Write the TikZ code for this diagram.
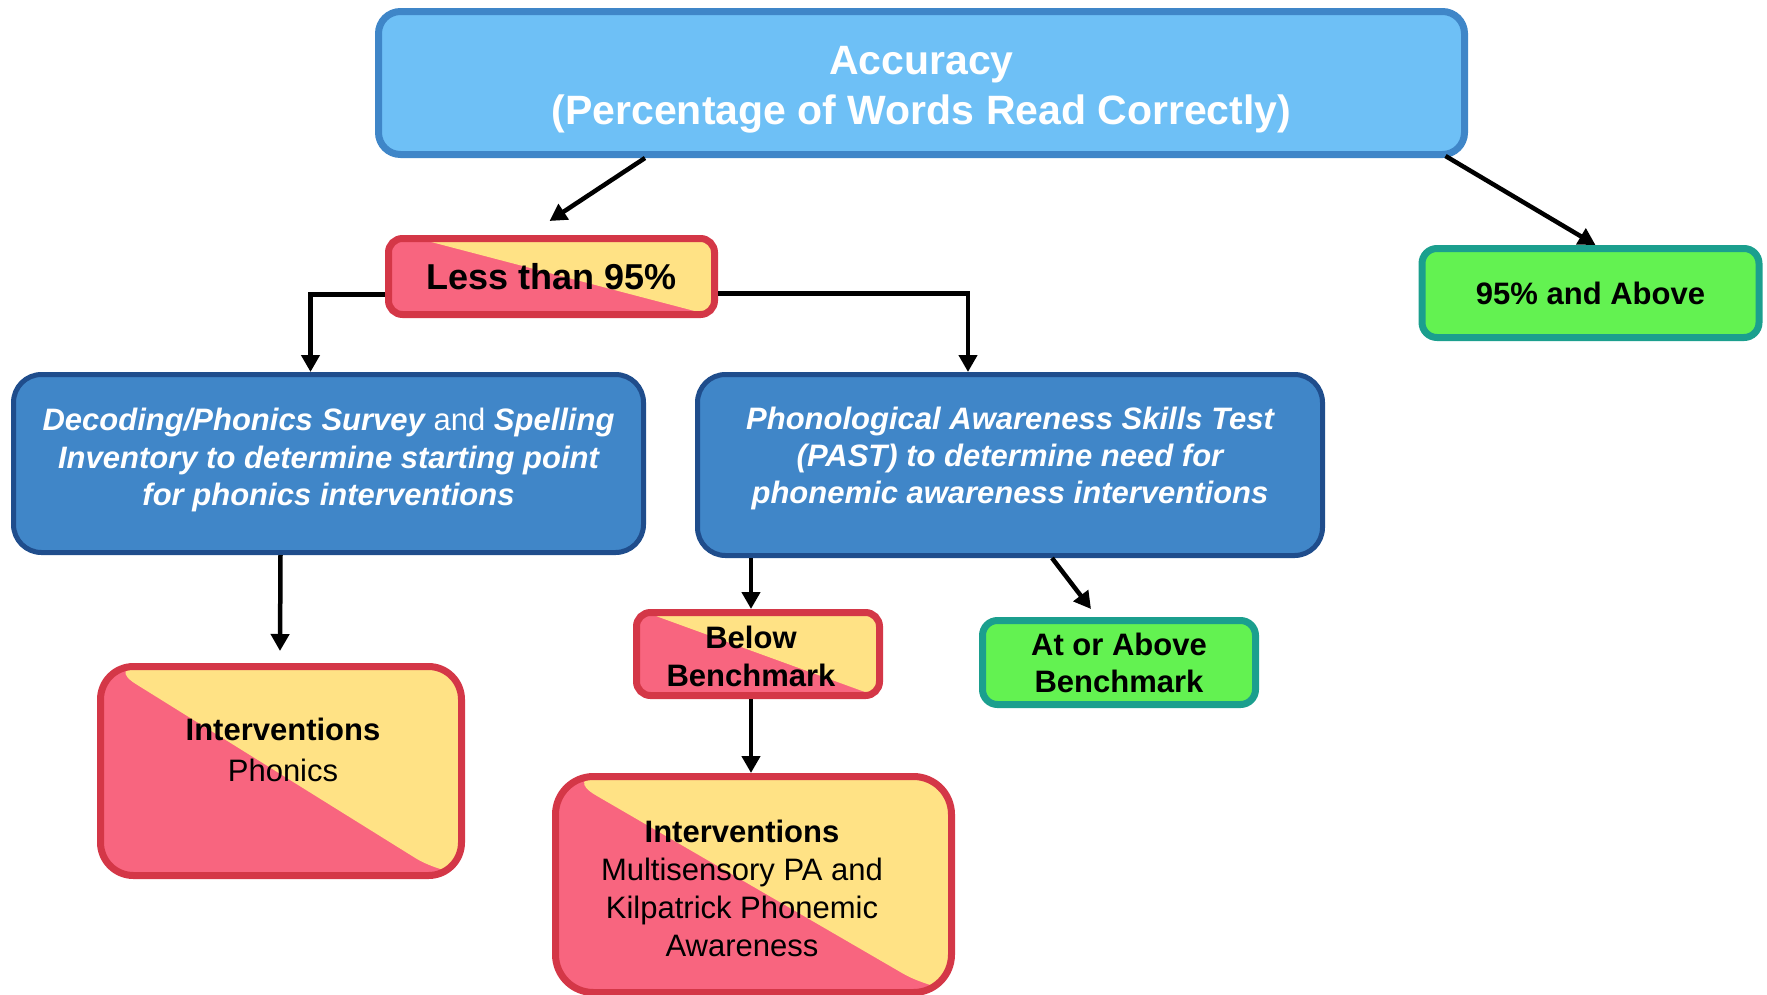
\documentclass[tikz,border=0pt]{standalone}
\usepackage{fontspec}
\setmainfont{Liberation Sans}
\usetikzlibrary{arrows.meta,calc}
\definecolor{topfill}{HTML}{6EC0F6}
\definecolor{topdraw}{HTML}{3F86C8}
\definecolor{bluefill}{HTML}{4086C8}
\definecolor{bluedraw}{HTML}{1F4D8C}
\definecolor{redd}{HTML}{D43747}
\definecolor{pinkc}{HTML}{F8657F}
\definecolor{yellc}{HTML}{FFE285}
\definecolor{greenf}{HTML}{63F251}
\definecolor{tealc}{HTML}{1B9F8E}
\tikzset{
  box/.style={rectangle, inner sep=0pt, align=center},
  txt/.style={align=center, inner sep=0pt},
  splitfill/.style 2 args={fill=pinkc, path picture={
    \fill[yellc] ($(path picture bounding box.north west)!#1!(path picture bounding box.north east)$)
      -- (path picture bounding box.north east)
      -- (path picture bounding box.south east)
      -- ($(path picture bounding box.south west)!#2!(path picture bounding box.south east)$) -- cycle;}},
  redbox/.style={box, draw=redd, line width=7pt},
  greenbox/.style={box, draw=tealc, fill=greenf, line width=7pt, rounded corners=15pt},
  bluebox/.style={box, draw=bluedraw, fill=bluefill, line width=5pt, rounded corners=28pt},
  arr/.style={line width=4.5pt, -{Triangle[length=17pt,width=18pt]}},
}
\begin{document}
\begin{tikzpicture}[x=1pt,y=-1pt]
\useasboundingbox (0,0) rectangle (1767,994);

% top box
\node[box, draw=topdraw, fill=topfill, line width=7pt, rounded corners=22pt,
      minimum width=1086pt, minimum height=143pt] (top) at (921.5,83) {};
\node[txt, text=white, font=\fontsize{41}{50}\selectfont\bfseries] (topT) at (921.5,90)
  {Accuracy\\(Percentage of Words Read Correctly)};

% less than 95%
\node[redbox, splitfill={0.09}{0.98}, rounded corners=14pt,
      minimum width=326pt, minimum height=76pt,
      font=\fontsize{36}{42}\selectfont\bfseries] (less) at (551.5,276.5)
  {Less than 95\%};

% 95% and above
\node[greenbox, minimum width=337pt, minimum height=89pt,
      font=\fontsize{31}{37}\selectfont\bfseries] (n95) at (1590.5,293)
  {95\% and Above};

% left blue box
\node[bluebox, minimum width=630pt, minimum height=178pt] (lb) at (328.5,463.5) {};
\node[txt, text=white, font=\fontsize{31}{37.5}\selectfont\bfseries\itshape] (lbT) at (328.5,460)
  {Decoding/Phonics Survey {\mdseries\upshape and} Spelling\\
   Inventory to determine starting point\\
   for phonics interventions};

% right blue box
\node[bluebox, minimum width=625pt, minimum height=181pt] (rb) at (1010,465) {};
\node[txt, text=white, font=\fontsize{31}{37}\selectfont\bfseries\itshape] (rbT) at (1010,458)
  {Phonological Awareness Skills Test\\
   (PAST) to determine need for\\
   phonemic awareness interventions};

% below benchmark
\node[redbox, splitfill={0.04}{0.98}, rounded corners=14pt,
      minimum width=243pt, minimum height=83pt] (below) at (758,654) {};
\node[txt, font=\fontsize{31}{38}\selectfont\bfseries] (belowT) at (751,656)
  {Below\\Benchmark};

% at or above benchmark
\node[greenbox, minimum width=273pt, minimum height=84pt,
      font=\fontsize{31}{37}\selectfont\bfseries] (atab) at (1119,662.5)
  {At or Above\\Benchmark};

% interventions phonics
\node[redbox, splitfill={0.02}{0.95}, rounded corners=33pt,
      minimum width=361pt, minimum height=209pt] (phon) at (281,771) {};
\node[txt, font=\fontsize{31}{41}\selectfont] (phonT) at (283,750)
  {\textbf{Interventions}\\Phonics};

% interventions bottom
\node[redbox, splitfill={0.02}{0.96}, rounded corners=38pt,
      minimum width=396pt, minimum height=216pt] (bot) at (753.5,884.5) {};
\node[txt, font=\fontsize{31}{38}\selectfont] (botT) at (742,888.5)
  {\textbf{Interventions}\\Multisensory PA and\\Kilpatrick Phonemic\\Awareness};

% connectors
\draw[arr] ([xshift=-276.5pt]top.south) -- ([xshift=-2pt,yshift=14pt]less.north);
\draw[arr] ([xshift=524pt,yshift=2pt]top.south) -- ([xshift=5pt]n95.north);
\draw[arr] ([yshift=-18pt]less.west) -| ([xshift=-18pt]lb.north);
\draw[arr] ([yshift=-17pt]less.east) -| ([xshift=-42pt]rb.north);
\draw[arr] ([xshift=-48pt]lb.south) -- ([xshift=-1pt,yshift=12pt]phon.north);
\draw[arr] ([xshift=-259pt]rb.south) -- ([xshift=-7pt]below.north);
\draw[arr] ([xshift=42pt]rb.south) -- ([xshift=-28pt,yshift=8pt]atab.north);
\draw[arr] ([xshift=-7pt]below.south) -- ([xshift=-2.5pt]bot.north);
\end{tikzpicture}
\end{document}
